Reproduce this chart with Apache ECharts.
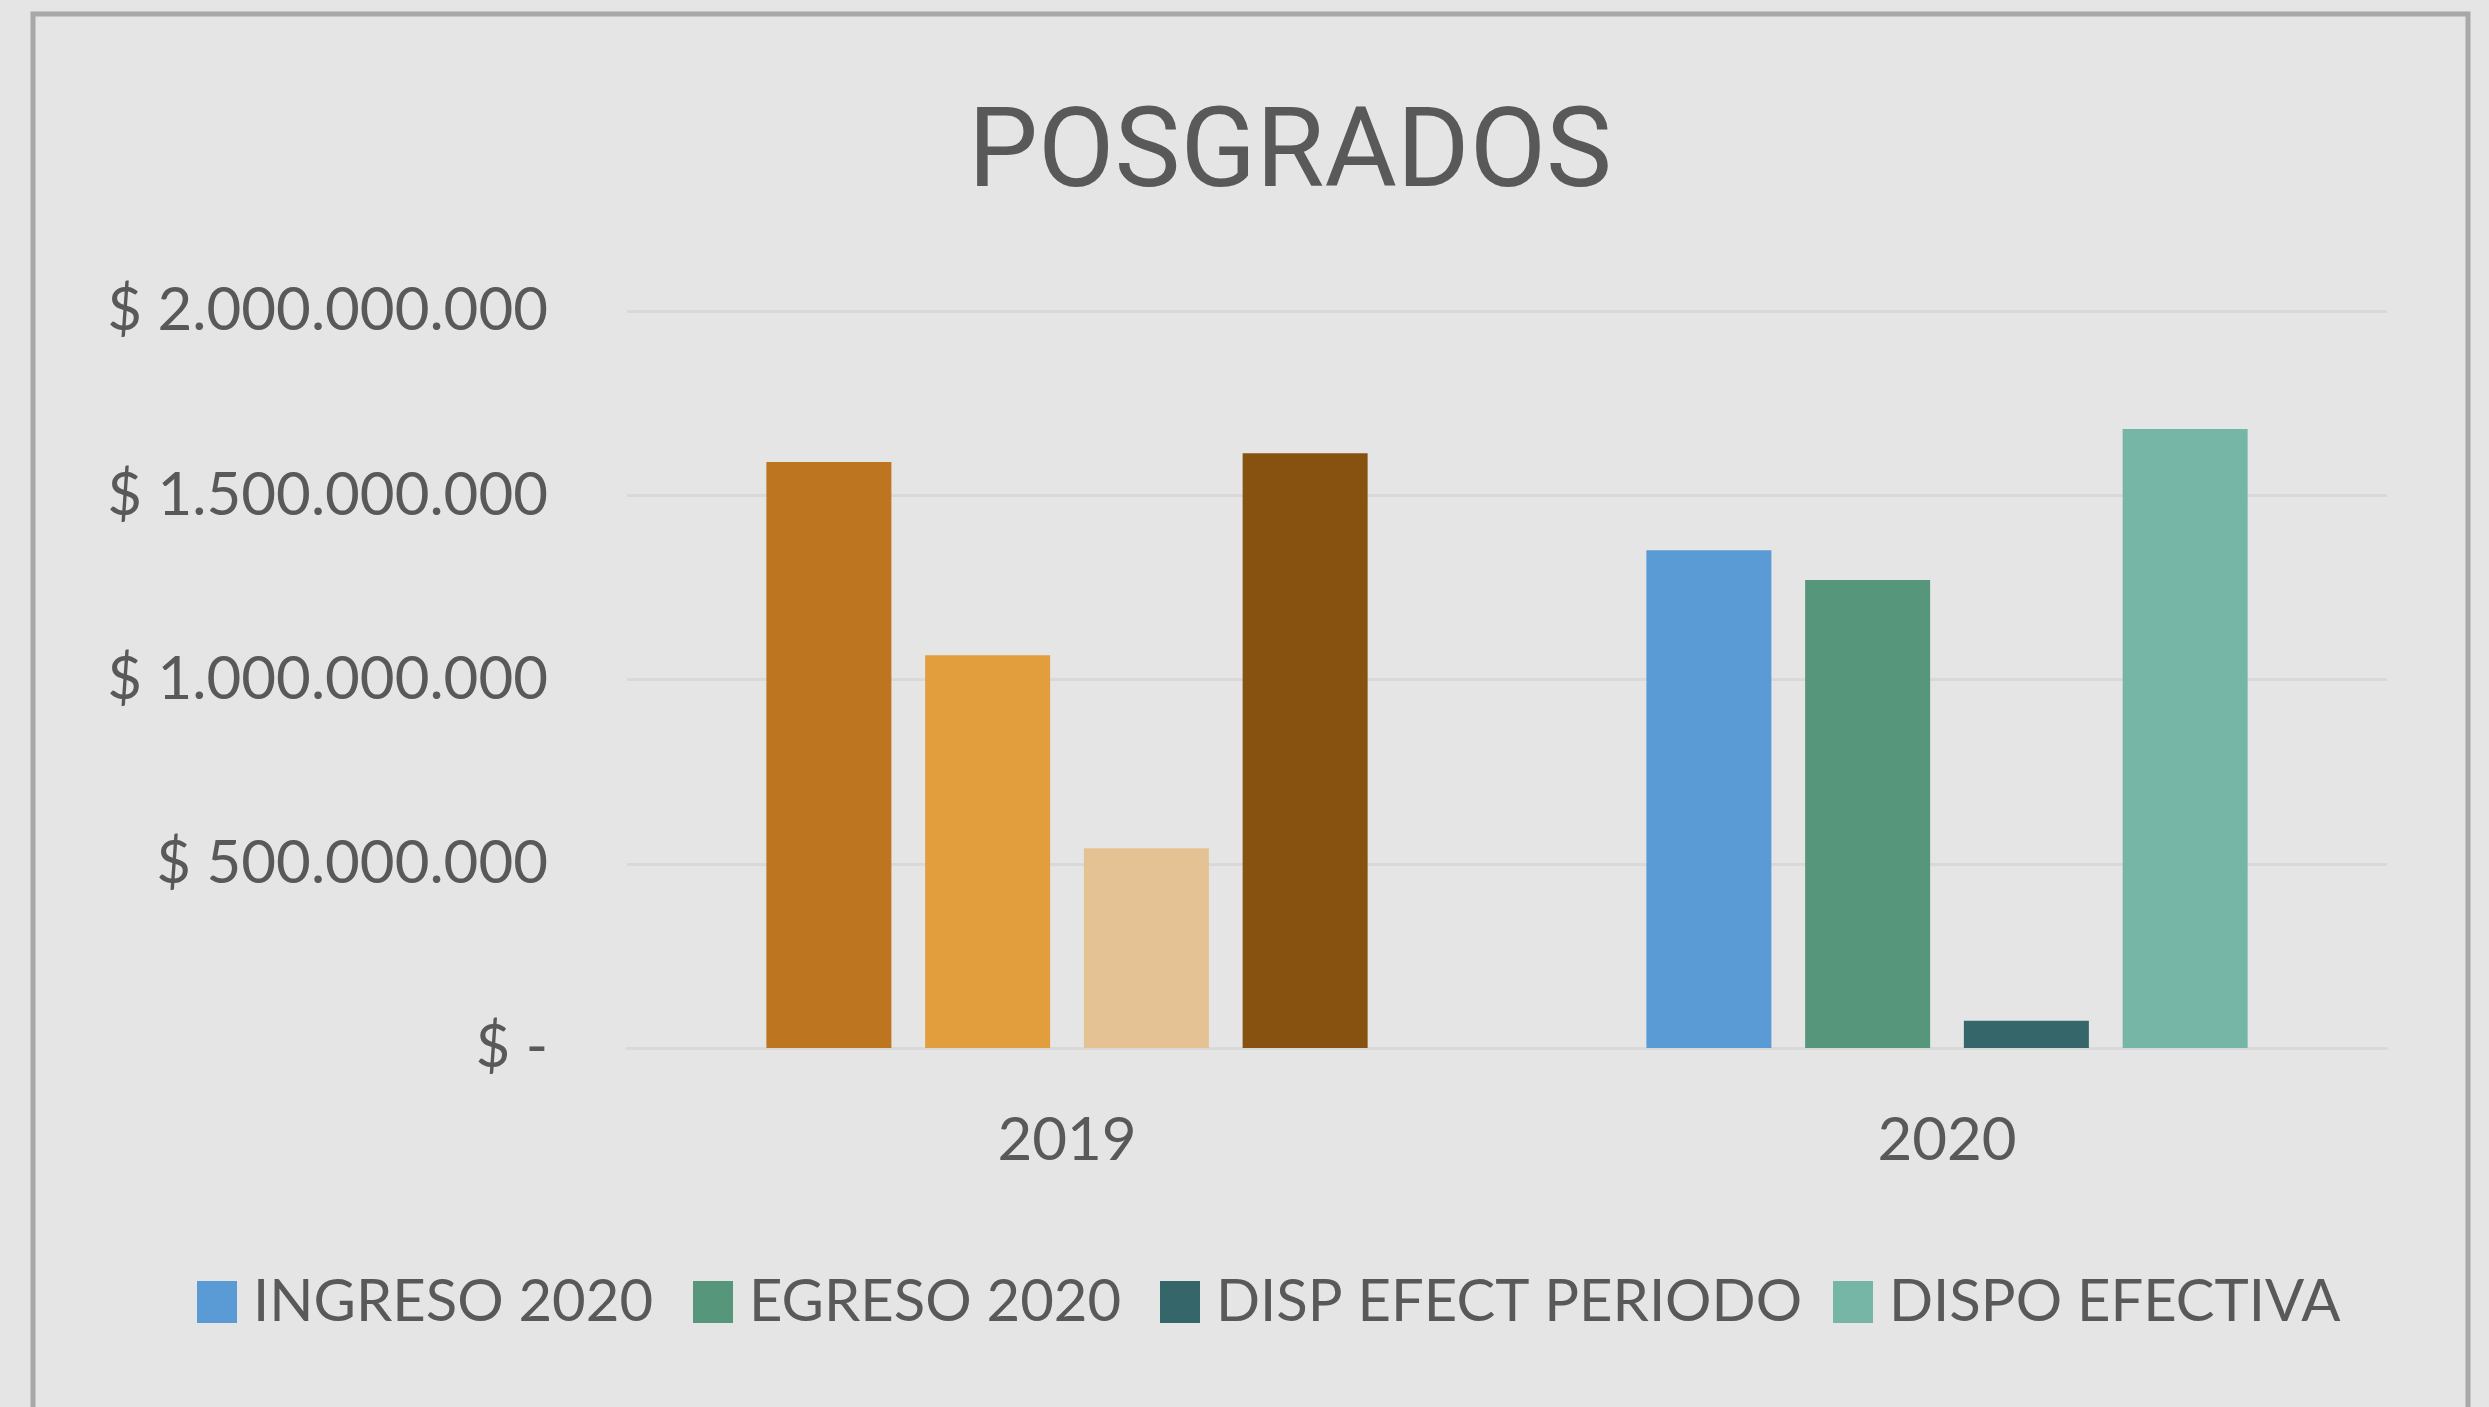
<!DOCTYPE html>
<html>
<head>
<meta charset="utf-8">
<script src="https://cdn.jsdelivr.net/npm/echarts@6/dist/echarts.min.js"></script>
<style>
html,body{margin:0;padding:0;background:#e5e5e5;}
#chart{width:2489px;height:1407px;}
</style>
</head>
<body>
<div id="chart"></div>
<script>
const categories = ['2019', '2020'];
const seriesNames = ['INGRESO 2020', 'EGRESO 2020', 'DISP EFECT PERIODO', 'DISPO EFECTIVA'];
const ingreso = [1590000000, 1351000000];
const egreso = [1066000000, 1270000000];
const dispEfectPeriodo = [542000000, 74000000];
const dispoEfectiva = [1614000000, 1680000000];
const colors2019 = ['#BD7520', '#E29E3C', '#E4C294', '#87520F'];
const colors2020 = ['#5B9BD5', '#56977B', '#35676A', '#76B6A6'];
const yTicks = [0, 500000000, 1000000000, 1500000000, 2000000000];

const TXT = '#595959';
const FONT = 'Lato';
const allValues = [ingreso, egreso, dispEfectPeriodo, dispoEfectiva];

function fmt(v) {
  if (v === 0) return '$ -';
  return '$ ' + String(v).replace(/\B(?=(\d{3})+(?!\d))/g, '.');
}

const chart = echarts.init(document.getElementById('chart'));

const legendLefts = [197, 693, 1160, 1833];
const legends = seriesNames.map((n, i) => ({
  data: [n],
  left: legendLefts[i],
  top: 1273,
  padding: 0,
  itemWidth: 40,
  itemHeight: 42,
  icon: 'rect',
  selectedMode: false,
  textStyle: { color: TXT, fontFamily: FONT, fontSize: 58, padding: [0, 0, 0, 11] }
}));

const series = seriesNames.map((n, i) => ({
  name: n,
  type: 'bar',
  barWidth: 125,
  barGap: '27%',
  color: colors2020[i],
  itemStyle: { color: colors2020[i] },
  data: allValues[i].map((v, j) => j === 0 ? { value: v, itemStyle: { color: colors2019[i] } } : v)
}));

chart.setOption({
  backgroundColor: '#e5e5e5',
  animation: false,
  title: {
    text: 'POSGRADOS',
    left: 1290,
    top: 103,
    padding: 0,
    textAlign: 'center',
    textStyle: { color: TXT, fontFamily: 'Roboto', fontSize: 111, fontWeight: 'normal' }
  },
  legend: legends,
  grid: { left: 627, right: 102, top: 311, bottom: 359, containLabel: false },
  xAxis: {
    type: 'category',
    data: categories,
    axisLine: { show: true, lineStyle: { color: '#d9d9d9', width: 3 } },
    axisTick: { show: false },
    axisLabel: { color: TXT, fontFamily: FONT, fontSize: 60, margin: 63 }
  },
  yAxis: {
    type: 'value',
    min: yTicks[0],
    max: yTicks[yTicks.length - 1],
    interval: yTicks[1] - yTicks[0],
    axisLine: { show: false },
    axisTick: { show: false },
    splitLine: { show: true, lineStyle: { color: '#d9d9d9', width: 3 } },
    axisLabel: { color: TXT, fontFamily: FONT, fontSize: 60, margin: 79, formatter: fmt }
  },
  graphic: [{
    type: 'rect',
    silent: true,
    z: 100,
    shape: { x: 33, y: 14, width: 2435, height: 1460 },
    style: { fill: 'none', stroke: '#a8a8a8', lineWidth: 5 }
  }],
  series: series
});
</script>
</body>
</html>
